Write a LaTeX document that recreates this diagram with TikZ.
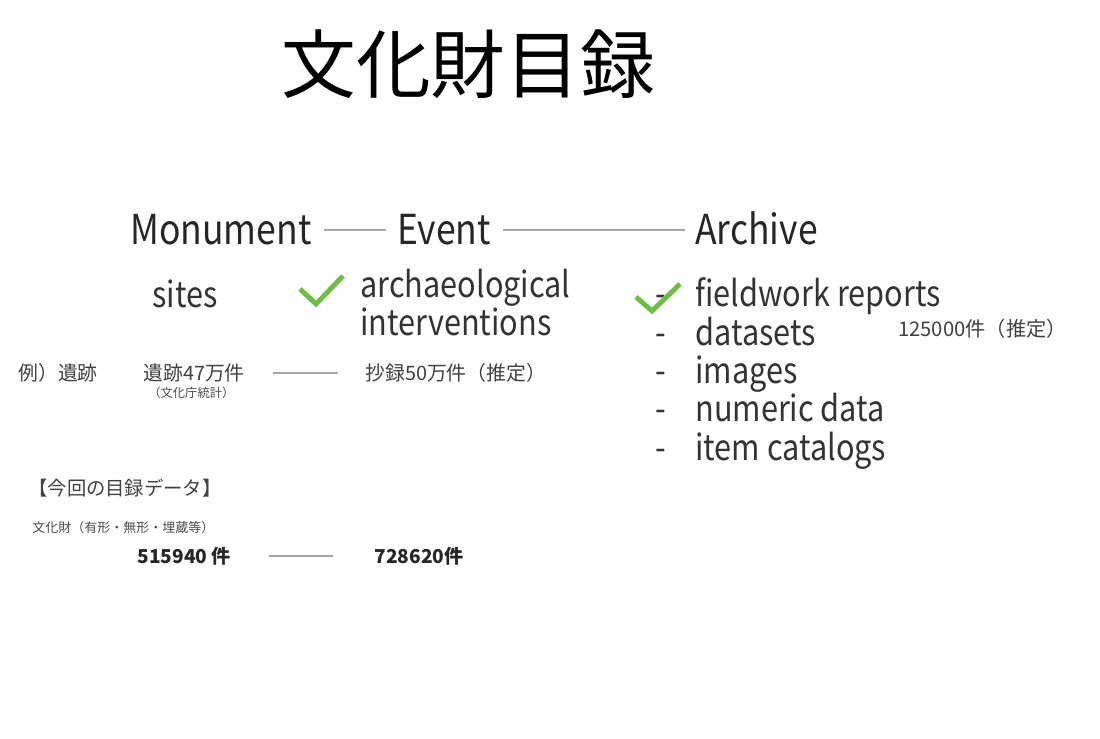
\documentclass[tikz,border=0pt]{standalone}
\usepackage{fontspec}
\setmainfont{Noto Sans CJK JP}
\newfontfamily\narrow[FakeStretch=0.86]{Noto Sans CJK JP}
\definecolor{tickgreen}{HTML}{6DBE45}
\tikzset{
  head/.style={anchor=base west,inner sep=0pt,text=black!85,font=\narrow\fontsize{23.5}{24}\selectfont},
  item/.style={anchor=base west,inner sep=0pt,text=black!80,font=\narrow\fontsize{20.3}{21}\selectfont},
  note/.style={anchor=west,inner sep=0pt,text=black!75,font=\fontsize{11.3}{12}\selectfont},
  fine/.style={anchor=west,inner sep=0pt,text=black!70,font=\fontsize{7}{8}\selectfont},
  count/.style={anchor=west,inner sep=0pt,text=black!85,font=\bfseries\fontsize{10.9}{12}\selectfont},
  link/.style={draw=black!35,line width=1.1pt},
  tick/.style={draw=tickgreen,line width=2.8pt}
}
\begin{document}
\begin{tikzpicture}[x=0.02cm,y=-0.02cm]
\useasboundingbox (0,0) rectangle (1100,739);

% title
\node [anchor=west,inner sep=0pt,font=\fontsize{42.5}{43}\selectfont] (title) at (281,64) {文化財目録};

% three entities
\node [head] (monument) at (130,245) {Monument};
\node [head] (event) at (397,245) {Event};
\node [head] (archive) at (695,245) {Archive};
\draw [link,shorten <=0.24cm,shorten >=0.22cm] (monument) -- (event);
\draw [link,shorten <=0.24cm,shorten >=0.2cm] (event.east) -- (event.east -| archive.west);

% what each one is
\node [item] (sites) at (152,308) {sites};
\node [item] (arch) at (360,298) {archaeological};
\node [item] (interv) at (360,336) {interventions};
\draw [tick] (300,289) -- (316,304) -- (343,276);

\foreach \t [count=\i from 0] in {fieldwork reports,datasets,images,numeric data,item catalogs} {
  \node [item] (dash\i) at (655,307+38.3*\i) {-};
  \node [item] (list\i) at (695,307+38.3*\i) {\t};
}
\draw [tick] (636,297) -- (652,311) -- (680,284);
\node [note,font=\fontsize{11.5}{12}\selectfont] (reports) at (898,329) {125000件（推定）};

% example
\node [note] (rei) at (18,373) {例）遺跡};
\node [note] (sitecount) at (143,373) {遺跡47万件};
\node [fine] (stat) at (148,393) {（文化庁統計）};
\node [note] (abstract) at (365,373) {抄録50万件（推定）};
\draw [link,shorten <=0.56cm,shorten >=0.54cm] (sitecount) -- (abstract);

% this catalogue
\node [note,font=\fontsize{11}{12}\selectfont] (data) at (28,488) {【今回の目録データ】};
\node [fine,font=\fontsize{7.4}{8}\selectfont] (kinds) at (32,528) {文化財（有形・無形・埋蔵等）};
\node [count] (left) at (137,556) {515940 件};
\node [count] (right) at (374,556) {728620件};
\draw [link,shorten <=0.76cm,shorten >=0.82cm] (left) -- (right);
\end{tikzpicture}
\end{document}
